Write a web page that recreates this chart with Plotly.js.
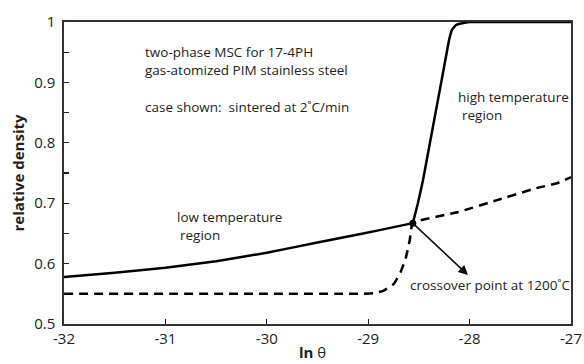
<!DOCTYPE html>
<html><head><meta charset="utf-8">
<script src="https://cdn.plot.ly/plotly-3.0.1.min.js"></script>
<style>html,body{margin:0;padding:0;background:#fff}#c{width:584px;height:364px}</style>
</head><body><div id="c"></div>
<script>
// low temperature region (solid)
const lowX = [-32, -31.5, -31, -30.5, -30, -29.5, -29.2, -28.9, -28.56];
const lowY = [0.578, 0.585, 0.593, 0.604, 0.618, 0.635, 0.645, 0.655, 0.667];
// high temperature region (solid)
const highX = [-28.56, -28.51, -28.46, -28.39, -28.32, -28.25, -28.2, -28.174, -28.134, -28.075, -28.0, -27.5, -27.0];
const highY = [0.667, 0.700, 0.738, 0.801, 0.864, 0.927, 0.972, 0.987, 0.995, 0.998, 1.0, 1.0, 1.0];
// dashed curve
const dashX = [-32, -30, -29.1, -28.95, -28.85, -28.75, -28.68, -28.63, -28.59, -28.56, -28.12, -27.73, -27.34, -27.14, -27.0];
const dashY = [0.55, 0.55, 0.55, 0.551, 0.555, 0.566, 0.586, 0.609, 0.639, 0.667, 0.685, 0.705, 0.725, 0.733, 0.743];
// crossover point
const crossX = [-28.56];
const crossY = [0.667];
const xTicks = [-32, -31, -30, -29, -28, -27];
const yTicks = [0.5, 0.6, 0.7, 0.8, 0.9, 1];
const yTickLabels = ['0.5', '0.6', '0.7', '0.8', '0.9', '1'];
const xTitle = '<b>ln</b> θ';
const yTitle = '<b>relative density</b>';

const F = 'Open Sans, Noto Sans, sans-serif';
const C = '#231f20';
const traces = [
  {x: dashX, y: dashY, mode: 'lines', line: {color: '#000', width: 2.5, dash: '9px,6px', shape: 'spline', smoothing: 0.4}},
  {x: lowX, y: lowY, mode: 'lines', line: {color: '#000', width: 2.5, shape: 'spline', smoothing: 0.3}},
  {x: highX, y: highY, mode: 'lines', line: {color: '#000', width: 2.5, shape: 'spline', smoothing: 0.3}},
  {x: crossX, y: crossY, mode: 'markers', marker: {color: '#000', size: 7}}
];
function txt(x, y, t) {
  return {x: x, y: y, xref: 'x', yref: 'y', text: t, showarrow: false, xanchor: 'left', yanchor: 'middle', font: {family: F, size: 13.5, color: C}};
}
const layout = {
  width: 584, height: 364,
  margin: {l: 64, r: 13, t: 22, b: 40},
  paper_bgcolor: '#fff', plot_bgcolor: '#fff',
  showlegend: false,
  font: {family: F, color: C},
  xaxis: {
    range: [-32, -27], tickvals: xTicks, ticktext: xTicks.map(String),
    ticks: 'inside', ticklen: 5, tickwidth: 1.3, tickcolor: C,
    showline: true, linecolor: '#333', linewidth: 1.6, mirror: true,
    showgrid: false, zeroline: false,
    tickfont: {family: F, size: 15, color: C}
  },
  yaxis: {
    range: [0.5, 1], tickvals: yTicks, ticktext: yTickLabels,
    ticks: 'inside', ticklen: 5, tickwidth: 1.3, tickcolor: C,
    minor: {dtick: 0.05, ticks: 'inside', ticklen: 5, tickwidth: 1.3, tickcolor: C, showgrid: false},
    showline: true, linecolor: '#333', linewidth: 1.6, mirror: true,
    showgrid: false, zeroline: false,
    ticklabelstandoff: 4,
    tickfont: {family: F, size: 15, color: C},
    title: {text: yTitle, font: {family: F, size: 15, color: C}, standoff: 6}
  },
  annotations: [
    {x: 0.491, y: -0.094, xref: 'paper', yref: 'paper', text: xTitle, showarrow: false, xanchor: 'center', yanchor: 'middle', borderpad: 0, font: {family: F, size: 15, color: C}},
    txt(-31.22, 0.950, 'two-phase MSC for 17-4PH'),
    txt(-31.22, 0.921, 'gas-atomized PIM stainless steel'),
    txt(-31.22, 0.859, 'case shown:  sintered at 2˚C/min'),
    txt(-28.13, 0.876, 'high temperature'),
    txt(-28.09, 0.846, 'region'),
    txt(-30.91, 0.677, 'low temperature'),
    txt(-30.88, 0.647, 'region'),
    txt(-28.61, 0.565, 'crossover point at 1200˚C'),
    {x: -28.016, y: 0.581, xref: 'x', yref: 'y', ax: -28.56, ay: 0.667, axref: 'x', ayref: 'y',
     text: '', showarrow: true, arrowhead: 2, arrowsize: 1.2, arrowwidth: 1.6, arrowcolor: '#111', standoff: 0, startstandoff: 0}
  ]
};
Plotly.newPlot('c', traces, layout, {displayModeBar: false, staticPlot: true});
</script></body></html>
